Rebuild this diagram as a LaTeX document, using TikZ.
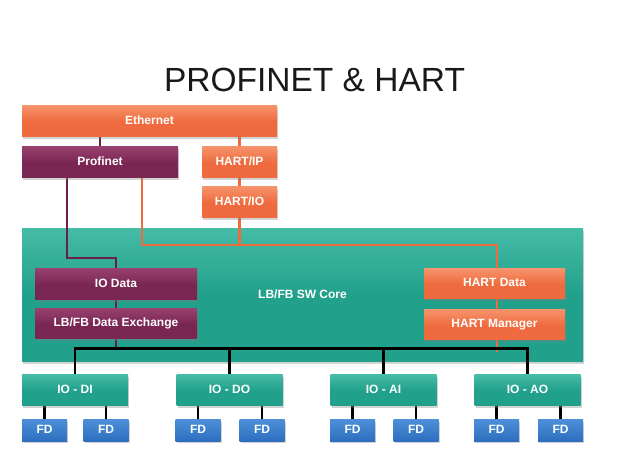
\documentclass[tikz,border=0pt]{standalone}
\usepackage{fontspec}
\setmainfont{Liberation Sans}
\usepackage{tikz}
\usetikzlibrary{positioning,shadows}

\definecolor{ethorange}{HTML}{EF6B3F}
\definecolor{ethlight}{HTML}{F6926A}
\definecolor{pnpurple}{HTML}{7A2653}
\definecolor{pnlight}{HTML}{97406E}
\definecolor{coreteal}{HTML}{21A08B}
\definecolor{corelight}{HTML}{45BBA6}
\definecolor{fdblue}{HTML}{2C6FBF}
\definecolor{fdlight}{HTML}{4C8ED6}

\pgfdeclarelayer{bg}
\pgfdeclarelayer{wires}
\pgfsetlayers{bg,wires,main}

\begin{document}
\begin{tikzpicture}[x=1pt,y=-1pt,
  box/.style={rectangle, inner sep=0pt, text=white, font=\bfseries\fontsize{12}{14}\selectfont,
    text height=0.72em, text depth=0.2em, minimum height=31pt,
    drop shadow={opacity=0.35, shadow xshift=1.2pt, shadow yshift=-2pt}},
  obox/.style={box, top color=ethlight, bottom color=ethorange, middle color=ethorange},
  pbox/.style={box, top color=pnlight, bottom color=pnpurple, middle color=pnpurple},
  tbox/.style={box, top color=corelight, bottom color=coreteal, middle color=coreteal},
  fdbox/.style={box, top color=fdlight, bottom color=fdblue, minimum width=45pt, minimum height=21pt},
  oline/.style={draw=ethorange, line width=2.2pt},
  pline/.style={draw=pnpurple!85!black, line width=2.2pt},
  bline/.style={draw=black, line width=2.6pt}]
\useasboundingbox (0,0) rectangle (630,473);

\node[anchor=base, font=\fontsize{33.5}{40}\selectfont, text=black!90] (title) at (314.5,92) {PROFINET \& HART};

% upper stack
\node[obox, minimum width=255pt] (eth) at (149.5,121.5) {Ethernet};
\node[pbox, minimum width=156pt] (prof) at (100,162.5) {Profinet};
\node[obox, minimum width=75pt] (hartip) at (239.5,162.5) {HART/IP};
\node[obox, minimum width=75pt] (hartio) at (239.5,202.5) {HART/IO};

% core
\begin{pgfonlayer}{bg}
\node[tbox, minimum width=561pt, minimum height=133pt] (core) at (302.5,295.5) {LB/FB SW Core};
\end{pgfonlayer}

\node[pbox, minimum width=162pt] (iodata) at (116,284.5) {IO Data};
\node[pbox, minimum width=162pt, minimum height=30pt] (lbfb) at (116,324) {LB/FB Data Exchange};
\node[obox, minimum width=141pt, minimum height=30pt] (hartdata) at (494.5,284) {HART Data};
\node[obox, minimum width=141pt, minimum height=30pt] (hartmgr) at (494.5,325) {HART Manager};

% io modules
\node[tbox, minimum width=106pt] (iodi) at (75,390.5) {IO - DI};
\node[tbox, minimum width=106pt] (iodo) at (229.5,390.5) {IO - DO};
\node[tbox, minimum width=106pt] (ioai) at (383.5,390.5) {IO - AI};
\node[tbox, minimum width=106pt] (ioao) at (527.5,390.5) {IO - AO};

\begin{pgfonlayer}{wires}
\draw[pline] (eth.south -| prof.north) -- (prof.north);
\draw[oline] (eth.south -| hartip.north) -- (hartip.north);
\draw[oline] (hartip.south) -- (hartio.north);
\draw[oline] (hartio.south) -- ++(0,27);
\draw[pline] ([xshift=-33pt]prof.south) |- ([yshift=11pt]iodata.north) -- (iodata.north);
\draw[pline] (iodata.south) -- (lbfb.north);
\draw[oline] ([xshift=42pt]prof.south) |- ([xshift=2.5pt,yshift=24pt]hartdata.north) -- ([xshift=2.5pt,yshift=-12pt]hartmgr.south);
\draw[pline] (lbfb.south) -- ++(0,10);
\draw[bline] (iodi.north) -- ++(0,-26) -| (ioao.north);
\draw[bline] (iodo.north) -- ++(0,-26);
\draw[bline] (ioai.north) -- ++(0,-26);
\end{pgfonlayer}

% field devices
\foreach \n/\x/\io in {1/44.5/iodi,2/106/iodi,3/198/iodo,4/262/iodo,5/352.5/ioai,6/416/ioai,7/496.5/ioao,8/560.5/ioao}{
  \node[fdbox] (fd\n) at (\x,430.5) {FD};
  \begin{pgfonlayer}{wires}
  \draw[bline] (fd\n.north) -- (fd\n.north |- \io.south);
  \end{pgfonlayer}
}
\end{tikzpicture}
\end{document}
